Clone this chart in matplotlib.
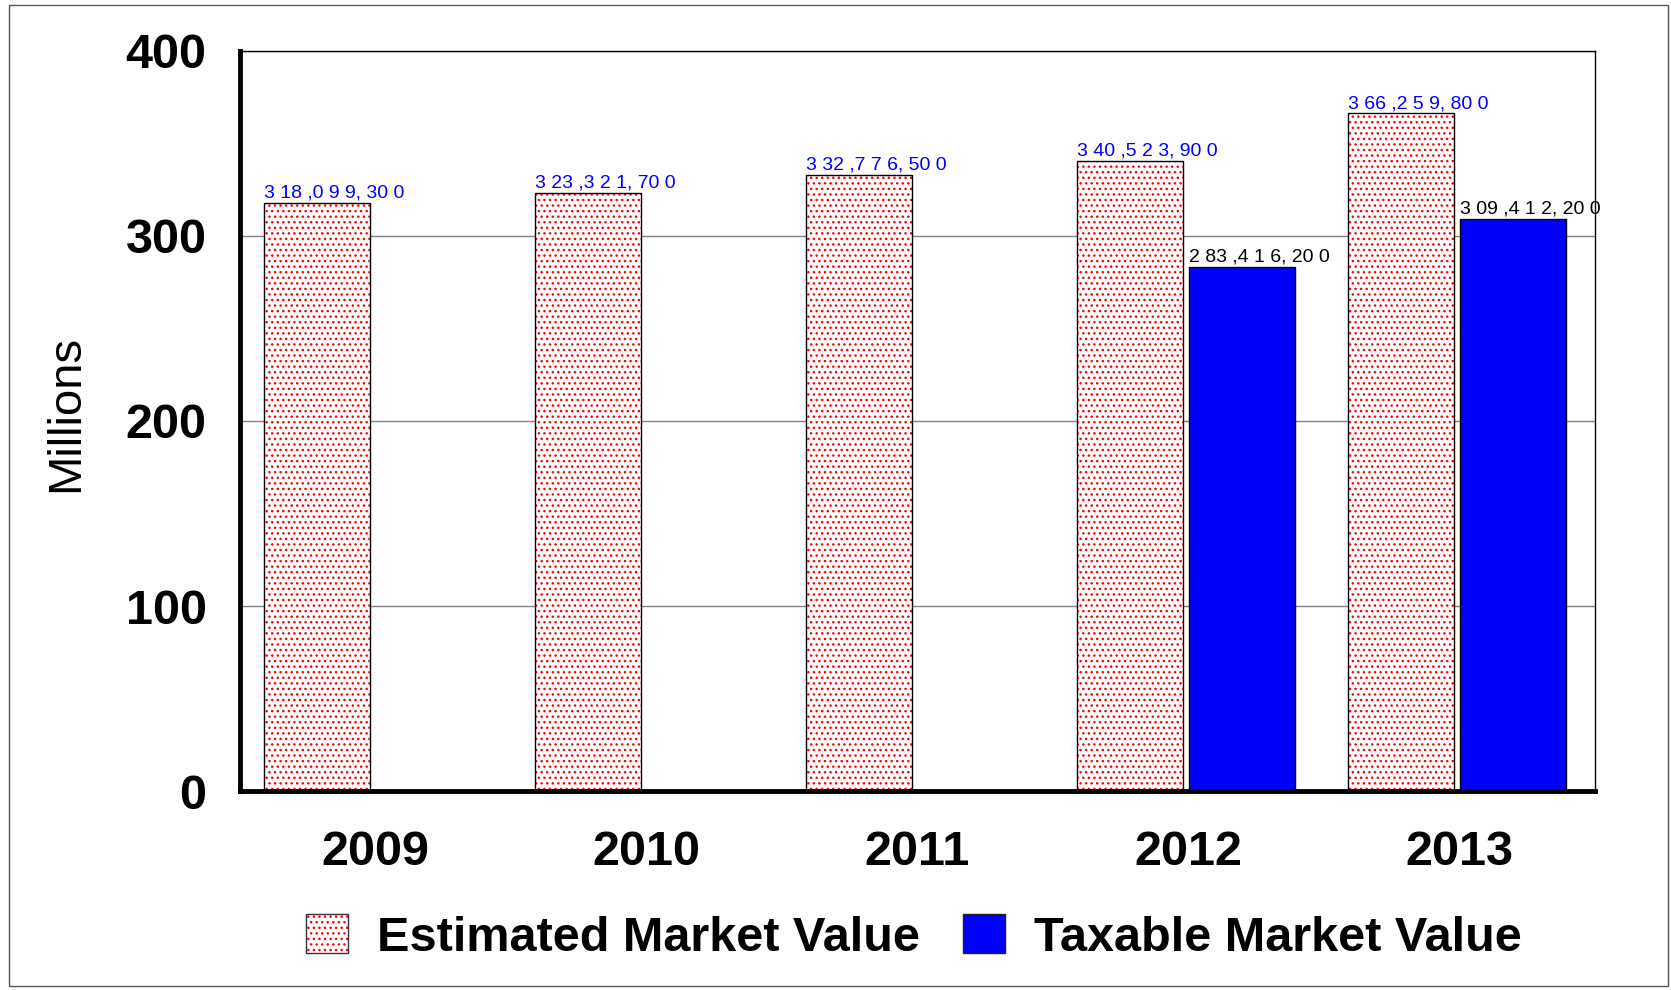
import matplotlib.pyplot as plt
import numpy as np
from matplotlib.patches import Patch, Rectangle

plt.rcParams['font.family'] = ['Liberation Sans', 'DejaVu Sans']
plt.rcParams['hatch.linewidth'] = 1.0

YEARS = ["2009", "2010", "2011", "2012", "2013"]
# millions
ESTIMATED = [318.0993, 323.3217, 332.7765, 340.5239, 366.2598]
TAXABLE = [np.nan, np.nan, np.nan, 283.4162, 309.4122]
# labels as they appear on the chart
EST_LABELS = ["3 18 ,0 9 9, 30 0", "3 23 ,3 2 1, 70 0", "3 32 ,7 7 6, 50 0",
              "3 40 ,5 2 3, 90 0", "3 66 ,2 5 9, 80 0"]
TAX_LABELS = ["", "", "", "2 83 ,4 1 6, 20 0", "3 09 ,4 1 2, 20 0"]
Y_TICKS = [0, 100, 200, 300, 400]

fig = plt.figure(figsize=(16.71, 9.90), dpi=100)
ax = fig.add_axes([0.1436, 0.201, 0.8109, 0.7475])

x = np.arange(len(YEARS))
w = 0.393
est_off = -0.215
tax_off = 0.198

# estimated: red dotted hatch on white, black outline drawn on top
ax.bar(x + est_off, ESTIMATED, w, color="white", edgecolor="red", hatch="...",
       linewidth=0, zorder=2)
ax.bar(x + est_off, ESTIMATED, w, color="none", edgecolor="black", linewidth=1.0,
       zorder=3)
ax.bar(x + tax_off, TAXABLE, w, color="#0000FF", edgecolor="black", linewidth=1.0,
       zorder=3)

for i in range(len(YEARS)):
    ax.annotate(EST_LABELS[i], (x[i] + est_off - w / 2, ESTIMATED[i]),
                xytext=(0, 1), textcoords="offset points", ha="left",
                va="bottom", color="#0000FF", fontsize=14, zorder=4)
    if TAX_LABELS[i]:
        ax.annotate(TAX_LABELS[i], (x[i] + tax_off - w / 2, TAXABLE[i]),
                    xytext=(0, 1), textcoords="offset points", ha="left",
                    va="bottom", color="black", fontsize=14, zorder=4)

ax.set_xlim(-0.5, len(YEARS) - 0.5)
ax.set_ylim(0, 400)
ax.set_yticks(Y_TICKS)
ax.set_xticks(x)
ax.set_xticklabels(YEARS)
ax.tick_params(axis="both", length=0, labelsize=35)
ax.tick_params(axis="x", pad=28)
ax.tick_params(axis="y", pad=24)
for lab in ax.get_xticklabels() + ax.get_yticklabels():
    lab.set_fontweight("bold")

ax.yaxis.grid(True, color="#808080", linewidth=1.0, zorder=0)
ax.set_axisbelow(True)

for side in ["top", "right"]:
    ax.spines[side].set_linewidth(1.0)
for side in ["left", "bottom"]:
    ax.spines[side].set_linewidth(3.5)
    ax.spines[side].set_zorder(5)

ax.set_ylabel("Millions", fontsize=34)
ax.yaxis.set_label_coords(-0.112, 0.51)

est_handle = (Patch(facecolor="white", edgecolor="red", hatch="...", linewidth=0),
              Patch(facecolor="none", edgecolor="#333333", linewidth=1.0))
tax_handle = Patch(facecolor="#0000FF", edgecolor="#222222", linewidth=1.0)
leg = fig.legend([est_handle, tax_handle],
                 ["Estimated Market Value", "Taxable Market Value"],
                 loc="center", bbox_to_anchor=(0.547, 0.053), ncol=2,
                 frameon=False, handlelength=0.85, handleheight=0.85,
                 handletextpad=0.6, columnspacing=0.9,
                 prop={"size": 35, "weight": "bold"})

# thin border round the whole picture
fig.patches.append(Rectangle((0.0054, 0.004), 0.993, 0.991, transform=fig.transFigure,
                             fill=False, edgecolor="#555555", linewidth=1.0))

fig.savefig("out.png", dpi=100)
